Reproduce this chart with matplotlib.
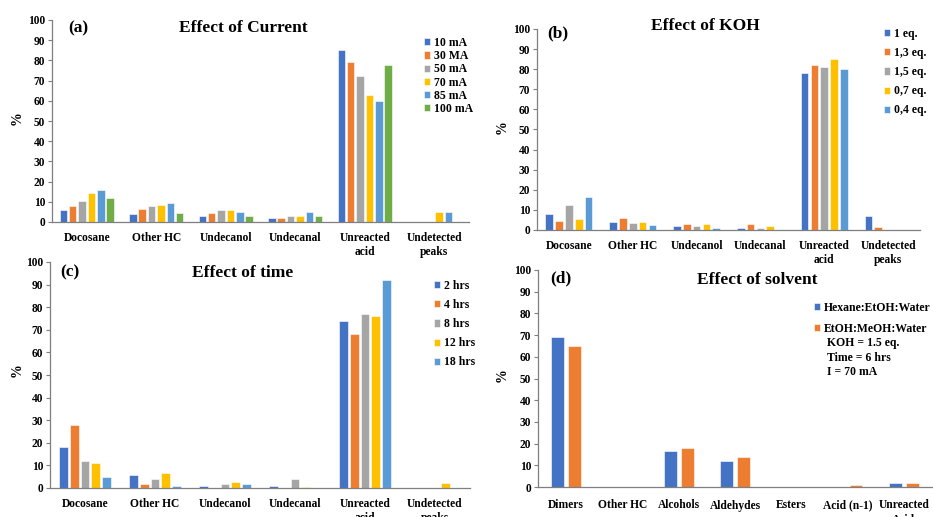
import numpy as np
from matplotlib import pyplot as plt

plt.rcParams['font.family'] = ['Liberation Serif', 'DejaVu Serif']
plt.rcParams['font.weight'] = 'bold'

colors = ["#4472C4", "#ED7D31", "#A5A5A5", "#FFC000", "#5B9BD5", "#70AD47"]

# (a) Effect of current
cats_a = ["Docosane", "Other HC", "Undecanol", "Undecanal", "Unreacted\nacid", "Undetected\npeaks"]
labels_a = ["10 mA", "30 MA", "50 mA", "70 mA", "85 mA", "100 mA"]
cur_10 = [6, 4, 3, 2, 85, 0]
cur_30 = [8, 6.4, 4.4, 2, 79, 0]
cur_50 = [10.5, 8, 6, 3, 72.5, 0]
cur_70 = [14.5, 8.4, 6, 3, 63, 5]
cur_85 = [16, 9.2, 5.1, 5.1, 60, 5]
cur_100 = [12, 4.4, 3, 3, 77.5, 0]

# (b) Effect of KOH
cats_b = ["Docosane", "Other HC", "Undecanol", "Undecanal", "Unreacted\nacid", "Undetected\npeaks"]
labels_b = ["1 eq.", "1,3 eq.", "1,5 eq.", "0,7 eq.", "0,4 eq."]
koh_1 = [8.2, 4, 2, 1, 78, 6.8]
koh_13 = [4.5, 5.8, 2.8, 2.8, 82, 1.3]
koh_15 = [12.5, 3.5, 2, 1, 81, 0]
koh_07 = [5.7, 4.2, 2.8, 2, 85, 0]
koh_04 = [16.5, 2.5, 0.8, 0, 80, 0]

# (c) Effect of time
cats_c = ["Docosane", "Other HC", "Undecanol", "Undecanal", "Unreacted\nacid", "Undetected\npeaks"]
labels_c = ["2 hrs", "4 hrs", "8 hrs", "12 hrs", "18 hrs"]
t_2 = [18, 5.8, 0.7, 1, 74, 0]
t_4 = [28, 1.8, 0, 0, 68, 0]
t_8 = [12, 4.2, 1.8, 4.2, 77, 0]
t_12 = [11, 6.7, 2.7, 0.6, 76, 2.4]
t_18 = [5, 1, 1.8, 0, 92, 0]

# (d) Effect of solvent
cats_d = ["Dimers", "Other HC", "Alcohols", "Aldehydes", "Esters", "Acid (n-1)", "Unreacted\nAcid"]
labels_d = ["Hexane:EtOH:Water", "EtOH:MeOH:Water"]
hex_etoh = [69, 0, 16.8, 11.8, 0, 0, 2]
etoh_meoh = [65, 0, 18, 14, 0, 1.1, 2]
note_d = "KOH = 1.5 eq.\nTime = 6 hrs\nI = 70 mA"

W, H = 933, 517
fig = plt.figure(figsize=(W / 100, H / 100), dpi=100)


def px_axes(left, right, top, bottom):
    return fig.add_axes([left / W, 1 - bottom / H, (right - left) / W, (bottom - top) / H])


def draw_panel(ax, cats, series, labels, step, width, tag, title, tag_xy, title_xy, leg_xy, leg_sp, xpad=7):
    n = len(series)
    x = np.arange(len(cats))
    for i, vals in enumerate(series):
        ax.bar(x + (i - (n - 1) / 2) * step, vals, width, color=colors[i],
               edgecolor="white", linewidth=0.4, label=labels[i])
    ax.set_xlim(-0.5, len(cats) - 0.5)
    ax.set_ylim(0, 100)
    ax.set_yticks(range(0, 101, 10))
    ax.set_xticks(x)
    ax.set_xticklabels(cats, fontsize=8.3, fontweight="bold", linespacing=1.3)
    ax.tick_params(axis="x", length=0, pad=xpad)
    ax.tick_params(axis="y", length=3, width=0.8, color="#7f7f7f", labelsize=8.3, pad=2)
    for lab in ax.get_yticklabels():
        lab.set_fontweight("bold")
    for s in ["top", "right"]:
        ax.spines[s].set_visible(False)
    for s in ["left", "bottom"]:
        ax.spines[s].set_color("#7f7f7f")
        ax.spines[s].set_linewidth(0.9)
    fig.text(tag_xy[0] / W, 1 - tag_xy[1] / H, tag, fontsize=12.5, fontweight="bold", va="center")
    fig.text(title_xy[0] / W, 1 - title_xy[1] / H, title, fontsize=12.5, fontweight="bold",
             ha="center", va="center")
    leg = ax.legend(loc="upper left", bbox_to_anchor=(leg_xy[0] / W, 1 - leg_xy[1] / H),
                    bbox_transform=fig.transFigure, frameon=False,
                    handlelength=0.55, handleheight=0.55, handletextpad=0.3,
                    labelspacing=leg_sp, borderpad=0, borderaxespad=0,
                    prop={"weight": "bold", "size": 8.5})
    return leg


ax_a = px_axes(52, 469, 20, 222)
draw_panel(ax_a, cats_a, [cur_10, cur_30, cur_50, cur_70, cur_85, cur_100], labels_a,
           0.135, 0.108, "(a)", "Effect of Current", (68, 28), (243, 28), (424, 37), 0.1)
fig.text(17 / W, 1 - 118 / H, "%", fontsize=10, fontweight="bold", rotation=90, ha="center", va="center")

ax_b = px_axes(537, 920, 29, 230)
draw_panel(ax_b, cats_b, [koh_1, koh_13, koh_15, koh_07, koh_04], labels_b,
           0.154, 0.118, "(b)", "Effect of KOH", (547, 33), (705, 26), (884, 28), 0.6)
fig.text(502 / W, 1 - 127 / H, "%", fontsize=10, fontweight="bold", rotation=90, ha="center", va="center")

ax_c = px_axes(50, 470, 262, 488)
draw_panel(ax_c, cats_c, [t_2, t_4, t_8, t_12, t_18], labels_c,
           0.152, 0.128, "(c)", "Effect of time", (60, 272), (243, 273), (434, 280), 0.6)
fig.text(17 / W, 1 - 370 / H, "%", fontsize=10, fontweight="bold", rotation=90, ha="center", va="center")

ax_d = px_axes(538, 932, 270, 487)
draw_panel(ax_d, cats_d, [hex_etoh, etoh_meoh], labels_d,
           0.30, 0.23, "(d)", "Effect of solvent", (550, 278), (757, 280), (814, 302), 0.75, xpad=9)
fig.text(827 / W, 1 - 337 / H, note_d, fontsize=8.5, fontweight="bold", va="top", linespacing=1.3)
fig.text(502 / W, 1 - 375 / H, "%", fontsize=10, fontweight="bold", rotation=90, ha="center", va="center")

fig.savefig("out.png", dpi=100)
